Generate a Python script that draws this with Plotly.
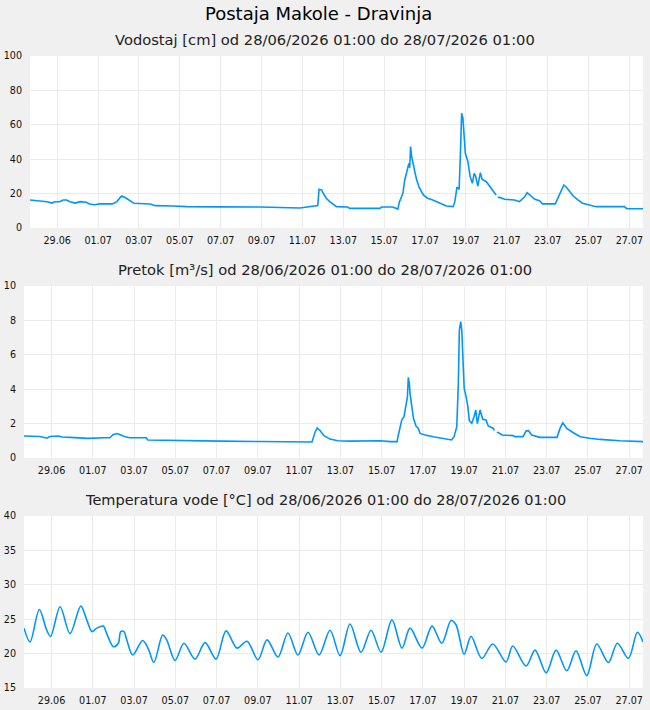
import pandas as pd
import plotly.graph_objects as go

START = "2026-06-28 01:00"
TOTAL_HOURS = 720

TITLE = "Postaja Makole - Dravinja"
SUBTITLES = [
    "Vodostaj [cm] od 28/06/2026 01:00 do 28/07/2026 01:00",
    "Pretok [m³/s] od 28/06/2026 01:00 do 28/07/2026 01:00",
    "Temperatura vode [°C] od 28/06/2026 01:00 do 28/07/2026 01:00",
]

TICK_LABELS = ["29.06", "01.07", "03.07", "05.07", "07.07", "09.07", "11.07", "13.07",
               "15.07", "17.07", "19.07", "21.07", "23.07", "25.07", "27.07"]
TICK_HOURS = [32, 80, 128, 176, 224, 272, 320, 368, 416, 464, 512, 560, 608, 656, 704]

# Vodostaj [cm] (hours since start, value)
VOD_H = [0, 12, 20, 26, 29, 35, 39, 43, 47, 53, 59, 66, 70, 76, 82, 97, 102, 106, 108, 113,
         117, 122, 141, 147, 168, 184, 223, 270, 317, 334, 338, 339.5, 342.7, 344, 348, 352,
         356, 360, 373, 375.5, 411, 413, 426, 432, 434, 438, 440, 443, 445, 446, 447, 448.3,
         450, 452, 454, 457, 462, 467, 473, 481, 489, 497, 499, 501.5, 504, 505.5, 507, 508.5,
         510, 511.3, 514.4, 517, 519.6, 521.7, 523.4, 526, 529, 531, 536, 540, 544, 547.5,
         548.5, 549.5, 551.6, 557.5, 569, 575, 581, 584, 589, 593, 598.5, 602, 617, 620, 624,
         627, 630, 634, 638, 643.5, 649, 657, 665, 698, 701, 720]
VOD_V = [16.3, 15.8, 15.3, 14.5, 15.3, 15.3, 16.3, 16.3, 15.3, 14.5, 15.3, 15.0, 14.0, 13.5,
         14.0, 14.0, 15.3, 17.8, 18.6, 17.3, 15.9, 14.4, 14.0, 13.0, 12.8, 12.4, 12.3, 12.2,
         11.6, 12.4, 13.0, 22.5, 22.0, 20.5, 17.3, 15.3, 14.0, 12.4, 12.2, 11.4, 11.4, 12.2,
         12.2, 11.0, 15.3, 20.2, 27.5, 32.7, 37.6, 35.0, 47.3, 41.5, 36.6, 32.7, 28.3, 23.7,
         19.2, 17.3, 16.3, 14.4, 12.8, 12.4, 15.3, 23.7, 22.5, 42.4, 66.7, 63.8, 53.1, 43.4,
         38.5, 29.8, 26.0, 31.8, 30.2, 24.4, 32.2, 28.3, 26.9, 24.4, 21.7, 19.2, None, 17.8,
         17.8, 16.7, 16.3, 15.3, 18.2, 20.5, 18.2, 16.7, 15.9, 14.0, 14.0, 17.3, 22.5, 25.0,
         23.7, 21.1, 18.6, 16.3, 14.4, 13.4, 12.4, 12.4, 11.2, 11.2]

# Pretok [m3/s]
PRE_H = [0, 18.6, 26.8, 30, 40, 44, 53.5, 74, 94, 100, 103.5, 108, 112, 117.5, 123, 142, 144,
         170, 181.5, 228, 274.5, 321, 335, 338.5, 341, 344.3, 349, 356, 365, 379, 414, 426,
         434, 435, 439.4, 442, 444.4, 446, 447, 448.2, 449, 451, 453, 456, 458.7, 460.7, 466.5,
         476, 488, 497.5, 500.2, 503.4, 505.2, 506.4, 508, 509.2, 510.3, 512, 514.2, 516.2,
         518, 520.8, 523.5, 525.5, 527.3, 530.5, 533.6, 537.4, 540, 546, 547, 548.5, 550, 552,
         556, 569, 571, 580.5, 584, 586.7, 590.6, 600, 620, 623.5, 626.7, 631.3, 639, 647, 658,
         670, 693, 720]
PRE_V = [1.28, 1.25, 1.15, 1.25, 1.28, 1.22, 1.20, 1.14, 1.18, 1.18, 1.35, 1.42, 1.35, 1.24,
         1.18, 1.18, 1.05, 1.02, 1.00, 0.98, 0.96, 0.93, 0.93, 1.50, 1.74, 1.60, 1.30, 1.10,
         1.00, 0.98, 1.00, 0.95, 0.95, 1.24, 2.21, 2.40, 3.18, 3.57, 4.69, 4.34, 3.76, 3.08,
         2.31, 1.86, 1.72, 1.43, 1.34, 1.24, 1.14, 1.05, 1.24, 1.82, 4.34, 7.44, 7.93, 7.44,
         6.09, 4.05, 3.57, 3.02, 2.17, 2.02, 2.40, 2.79, 2.00, 2.79, 2.25, 2.21, 1.86, 1.72,
         1.60, None, 1.50, 1.47, 1.34, 1.30, 1.24, 1.24, 1.57, 1.59, 1.34, 1.20, 1.20, 1.72,
         2.05, 1.72, 1.47, 1.24, 1.15, 1.08, 1.00, 0.95]

# Temperatura vode [°C]
TEM_H = [0, 7, 17.8, 26.4, 31, 42, 53.5, 66, 73, 79, 84.6, 92.3, 96.2, 104, 109.7, 112.5, 116.3,
         119.5, 126.5, 138, 144.6, 151, 161.3, 166, 175.7, 186, 199, 210.6, 223.4, 235, 247.8,
         259.4, 272.2, 282.7, 295.5, 307, 318.7, 330.4, 343.2, 356, 367.6, 379.2, 392, 403.7,
         415.3, 428, 439.7, 449, 463, 474.6, 485.9, 496.7, 502.5, 511.9, 520, 532.5, 545.2,
         560.7, 568.5, 584, 594.5, 607.3, 618.9, 631.3, 642.1, 654.6, 666.2, 679.7, 690.2,
         703, 713.5, 720]
TEM_V = [23.7, 21.7, 26.4, 23.4, 22.5, 26.8, 22.9, 26.9, 24.9, 23.2, 23.7, 24.0, 22.9, 21.0,
         21.5, 23.2, 23.2, 22.0, 19.8, 21.9, 20.7, 18.7, 22.7, 22.0, 19.0, 21.5, 19.2, 21.6,
         19.2, 23.3, 20.8, 21.8, 19.1, 22.0, 19.5, 23.0, 19.8, 23.1, 19.8, 23.4, 19.7, 24.3,
         20.2, 23.4, 20.2, 24.9, 20.8, 23.7, 20.8, 24.0, 21.5, 24.8, 24.2, 19.9, 22.5, 19.3,
         21.4, 18.8, 21.1, 18.2, 20.5, 17.2, 20.5, 17.5, 20.4, 16.8, 21.4, 18.7, 21.5, 19.3,
         23.1, 21.7]

Y_RANGES = [(0, 100, 20), (0, 10, 2), (15, 40, 5)]

LINE_COLOR = "#0096ff"
GRID = "#ebebeb"
FONT = "DejaVu Sans"

W, H = 650, 710
t0 = pd.Timestamp(START)


def to_time(hours):
    return [t0 + pd.Timedelta(hours=h) for h in hours]


fig = go.Figure()
series = [(VOD_H, VOD_V, "linear"), (PRE_H, PRE_V, "linear"), (TEM_H, TEM_V, "spline")]
for i, (hh, vv, shape) in enumerate(series):
    sfx = "" if i == 0 else str(i + 1)
    line = dict(color=LINE_COLOR, width=1.6, shape=shape)
    if shape == "spline":
        line["smoothing"] = 0.9
    fig.add_trace(go.Scatter(x=to_time(hh), y=vv, mode="lines", line=line,
                             connectgaps=False, hoverinfo="skip",
                             xaxis="x" + sfx, yaxis="y" + sfx, showlegend=False))

# panel pixel boxes (left, top, right, bottom)
boxes = [(30, 56, 643, 228), (24, 286, 643, 458), (24, 516, 643, 688)]
sub_y = [39, 270, 500]
sub_size = [14.7, 14.7, 14.5]
tick_times = to_time(TICK_HOURS)
x_range = [t0, t0 + pd.Timedelta(hours=TOTAL_HOURS)]

layout = dict(
    width=W, height=H, margin=dict(l=0, r=0, t=0, b=0, autoexpand=False),
    paper_bgcolor="#f0f0f0", plot_bgcolor="white",
    font=dict(family=FONT, color="#111"),
    annotations=[],
)
for i, (l, t, r, b) in enumerate(boxes):
    sfx = "" if i == 0 else str(i + 1)
    y0, y1, dt = Y_RANGES[i]
    layout["xaxis" + sfx] = dict(
        domain=[l / W, r / W], anchor="y" + sfx, range=x_range, automargin=False,
        tickvals=tick_times, ticktext=TICK_LABELS, showgrid=True, gridcolor=GRID,
        zeroline=False, showline=False, ticks="outside", ticklen=3,
        tickcolor="rgba(0,0,0,0)", tickfont=dict(size=9.6, color="#111"),
    )
    layout["yaxis" + sfx] = dict(
        domain=[1 - b / H, 1 - t / H], anchor="x" + sfx, range=[y0, y1], dtick=dt,
        tick0=y0, showgrid=True, gridcolor=GRID, zeroline=False, showline=False,
        automargin=False, ticks="outside", ticklen=5, tickcolor="rgba(0,0,0,0)",
        tickfont=dict(size=9.6, color="#111"),
    )
    layout["annotations"].append(dict(
        text=SUBTITLES[i], x=0.5, y=1 - sub_y[i] / H, xref="paper", yref="paper",
        xanchor="center", yanchor="middle", showarrow=False,
        font=dict(size=sub_size[i], family=FONT, color="#222")))

layout["annotations"].append(dict(
    text=TITLE, x=0.49, y=1 - 14 / H, xref="paper", yref="paper",
    xanchor="center", yanchor="middle", showarrow=False,
    font=dict(size=18, family=FONT, color="#000")))

fig.update_layout(**layout)
fig.write_html("out.html")
